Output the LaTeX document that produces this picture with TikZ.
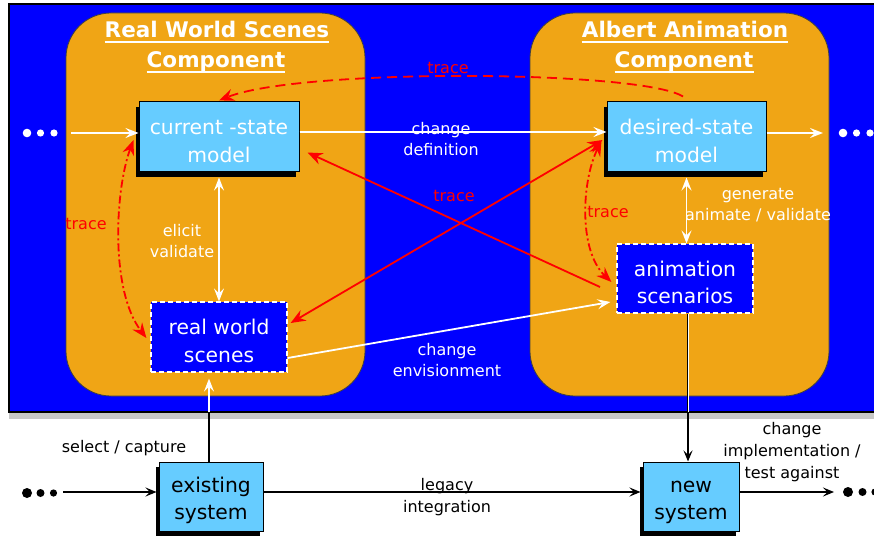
\documentclass[tikz,border=0pt]{standalone}
\usepackage{fontspec}
\setmainfont{DejaVu Sans}
\usetikzlibrary{arrows.meta,calc,shadows}

\definecolor{panelblue}{RGB}{0,0,255}
\definecolor{compfill}{RGB}{240,165,21}
\definecolor{modelfill}{RGB}{102,204,255}
\definecolor{tracered}{RGB}{255,0,0}
\definecolor{shadowgray}{RGB}{200,200,200}

% first line of a box label gets a tall invisible strut
\newcommand{\boxtop}{\rule{0pt}{23pt}}

\tikzset{
  redtip/.tip={Stealth[length=15pt,width=12pt,inset=5pt]},
  whitetip/.tip={Stealth[length=13pt,width=10pt,inset=5pt]},
  blacktip/.tip={Stealth[length=11pt,width=9pt,inset=4.5pt]},
  modelbox/.style={draw=black, line width=1pt, fill=modelfill, align=center,
    inner sep=0pt, font=\fontsize{20.3}{27.5}\selectfont,
    general shadow={fill=black, shadow xshift=-3pt, shadow yshift=-5pt}},
  scenebox/.style={draw=white, line width=1.2pt, dash pattern=on 5pt off 3pt,
    fill=panelblue, align=center, inner sep=0pt, text=white,
    font=\fontsize{20.3}{27.5}\selectfont},
  component/.style={fill=compfill, draw=black!75, line width=0.8pt, rounded corners=45pt},
  titletext/.style={text=white, inner sep=0pt, anchor=base,
    font=\fontsize{21.5}{30}\selectfont\bfseries},
  lbl/.style={align=center, inner sep=0pt, font=\fontsize{16}{21.7}\selectfont},
  wlbl/.style={lbl, text=white},
  blbl/.style={lbl, text=black},
  rlbl/.style={lbl, text=tracered},
  wflow/.style={draw=white, line width=1.8pt, arrows={-whitetip}},
  bflow/.style={draw=black, line width=1.4pt, arrows={-blacktip}},
  tracearrow/.style={draw=tracered, line width=1.8pt},
  tracedash/.style={tracearrow, dash pattern=on 10pt off 6pt},
  tracedashdot/.style={tracearrow, dash pattern=on 8pt off 3pt on 2pt off 3pt},
}

\begin{document}
\begin{tikzpicture}[x=1pt,y=-1pt]
\clip (0,0) rectangle (874,537);
\fill[white] (0,0) rectangle (874,537);

% blue panel with its grey drop edge
\fill[shadowgray] (9,412) rectangle (874,419);
\draw[black, line width=1.5pt, fill=panelblue] (9,4) rectangle (884,412);
\coordinate (pb) at (0,412);

% the two components
\draw[component] (66,13) rectangle (365,396);
\draw[component] (530,13) rectangle (829,396);

% component titles
\node[titletext] (t1a) at (217,38) {Real World Scenes};
\node[titletext] (t1b) at (216,68) {Component};
\node[titletext] (t2a) at (685,38) {Albert Animation};
\node[titletext] (t2b) at (684,68) {Component};
\foreach \t in {t1a,t1b,t2a,t2b}
  \draw[white, line width=1.5pt] ([yshift=-4pt]\t.base west) -- ([yshift=-4pt]\t.base east);

% model boxes
\node[modelbox, text=white, minimum width=160pt, minimum height=70pt] (cs) at (219,137) {\boxtop current -state\\model};
\node[modelbox, text=white, minimum width=159pt, minimum height=70pt] (ds) at (686.5,137) {\boxtop desired-state\\model};
\node[scenebox, minimum width=136pt, minimum height=70pt] (rws) at (219,337) {\boxtop real world\\scenes};
\node[scenebox, minimum width=136pt, minimum height=69pt] (anim) at (685,278.5) {\boxtop animation\\scenarios};
\node[modelbox, text=black, minimum width=104pt, minimum height=69pt] (ex) at (211,496.5) {\boxtop existing\\system};
\node[modelbox, text=black, minimum width=96pt, minimum height=69pt] (new) at (691,496.5) {\boxtop new\\system};

% continuation dots
\fill[white] (27,133) circle (4.3pt) (40.5,133) circle (3.6pt) (54,133) circle (3.6pt);
\fill[white] (843,133) circle (4.3pt) (856.5,133) circle (3.6pt) (870,133) circle (3.6pt);
\fill[black] (27,493) circle (5pt) (40.5,493) circle (4pt) (53.5,493) circle (3.6pt);
\fill[black] (848,492) circle (5pt) (862.5,492) circle (4pt) (875,492) circle (3.6pt);

\coordinate (inTop) at (71,133);
\coordinate (outTop) at (823,133);
\coordinate (inBot) at (63,492);
\coordinate (outBot) at (834,492);

% white flows in the upper panel
\draw[wflow] (inTop) -- ([yshift=4pt]cs.west);
\draw[wflow] ([yshift=5pt]cs.east) -- ([yshift=5pt]ds.west);
\draw[wflow] ([yshift=4pt]ds.east) -- (outTop);
\draw[wflow, arrows={whitetip-whitetip}] ([yshift=-5pt]cs.south) -- (rws.north);
\draw[wflow, arrows={whitetip-whitetip}] ([yshift=-5pt]ds.south) -- (ds.south |- anim.north);
\draw[wflow] ([yshift=-21pt]rws.east) -- ([xshift=-6pt,yshift=-23.5pt]anim.west);

% flows crossing the panel edge
\draw[wflow, shorten >=6pt] ([xshift=-2pt]ex.north) -- ([xshift=-2pt]ex.north |- rws.south);
\draw[black, line width=1.4pt] ([xshift=-2pt]ex.north) -- ([xshift=-2pt]ex.north |- pb);
\draw[bflow] ([xshift=3pt]anim.south) -- ([xshift=3pt]anim.south |- new.north);
\draw[white, line width=1pt] ([xshift=3pt]anim.south) -- ([xshift=3pt]anim.south |- pb);

% black flows in the lower part
\draw[bflow] (inBot) -- ([xshift=-2pt,yshift=4.5pt]ex.west);
\draw[bflow] ([yshift=4.5pt]ex.east) -- ([xshift=-2pt,yshift=4.5pt]new.west);
\draw[bflow] ([yshift=4.5pt]new.east) -- (outBot);

% trace links
\draw[tracedash, arrows={-redtip}] ([xshift=-3.5pt,yshift=5pt]ds.north)
  .. controls (640,70) and (300,68) .. ([yshift=1pt]cs.north);
\draw[tracedashdot, arrows={redtip-redtip}] ($(cs.west)+(-5,3)$)
  .. controls (115,190) and (110,290) .. ([xshift=-4pt,yshift=-1pt]rws.west);
\draw[tracedashdot, arrows={redtip-redtip}] ($(ds.west)+(-5,4)$)
  .. controls (582,180) and (578,250) .. ($(anim.west)+(-5,3.5)$);
\coordinate (xa) at (600,287);
\draw[tracearrow, arrows={-redtip}] (xa) -- ($(cs.south east)+(8,-20)$);
\draw[tracearrow, arrows={redtip-redtip}] ($(ds.west)+(-4,3)$) -- ($(rws.east)+(3,-14)$);

% labels
\node[wlbl] (lcd) at (441,139) {change\\definition};
\node[wlbl] (lev) at (182,241) {elicit\\validate};
\node[wlbl] (lga) at (758,205) {generate\\animate / validate};
\node[wlbl] (lce) at (447,360) {change\\envisionment};
\node[blbl] (lsc) at (124,448) {select / capture};
\node[blbl] (lli) at (447,497) {legacy\\integration};
\node[blbl] (lci) at (792,452) {change\\implementation /\\test against};
\node[rlbl] (tr1) at (448,68) {trace};
\node[rlbl] (tr2) at (86,224) {trace};
\node[rlbl] (tr3) at (608,212) {trace};
\node[rlbl] (tr4) at (454,196) {trace};
\end{tikzpicture}
\end{document}
